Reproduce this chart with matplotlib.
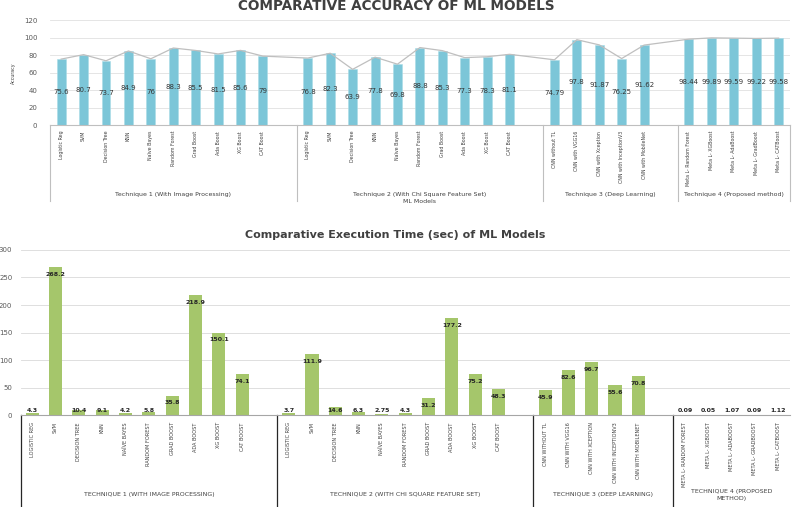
import numpy as np
import matplotlib.pyplot as plt
import matplotlib.transforms as mtrans
from matplotlib import font_manager

# ---- data ----
ml_names = ['Logistic Reg', 'SVM', 'Decision Tree', 'KNN', 'Naïve Bayes',
            'Random Forest', 'Grad Boost', 'Ada Boost', 'XG Boost', 'CAT Boost']
cnn_names = ['CNN without TL', 'CNN with VGG16', 'CNN with Xception',
             'CNN with InceptionV3', 'CNN with MobileNet']
meta_names = ['Meta L- Random Forest', 'Meta L- XGBoost', 'Meta L- AdaBoost',
              'Meta L- GradBoost', 'Meta L- CATBoost']

acc_t1 = [75.6, 80.7, 73.7, 84.9, 76, 88.3, 85.5, 81.5, 85.6, 79]
acc_t2 = [76.8, 82.3, 63.9, 77.8, 69.8, 88.8, 85.3, 77.3, 78.3, 81.1]
acc_t3 = [74.79, 97.8, 91.87, 76.25, 91.62]
acc_t4 = [98.44, 99.89, 99.59, 99.22, 99.58]

time_t1 = [4.3, 268.2, 10.4, 9.1, 4.2, 5.8, 35.8, 218.9, 150.1, 74.1]
time_t2 = [3.7, 111.9, 14.6, 6.3, 2.75, 4.3, 31.2, 177.2, 75.2, 48.3]
time_t3 = [45.9, 82.6, 96.7, 55.6, 70.8]
time_t4 = [0.09, 0.05, 1.07, 0.09, 1.12]

groups_acc = ['Technique 1 (With Image Processing)', 'Technique 2 (With Chi Square Feature Set)',
              'Technique 3 (Deep Learning)', 'Technique 4 (Proposed method)']
groups_time = ['TECHNIQUE 1 (WITH IMAGE PROCESSING)', 'TECHNIQUE 2 (WITH CHI SQUARE FEATURE SET)',
               'TECHNIQUE 3 (DEEP LEARNING)', 'TECHNIQUE 4 (PROPOSED\nMETHOD)']

names = [ml_names, ml_names, cnn_names, meta_names]
offsets = [0, 11, 22, 28]
bounds = [-0.5, 10.5, 21.5, 27.5, 32.5]

# pick a narrow face if one is around, else shrink the regular one
have = {f.name for f in font_manager.fontManager.ttflist}
if 'Liberation Sans Narrow' in have:
    narrow, nsize = 'Liberation Sans Narrow', 1.0
elif 'DejaVu Sans Condensed' in have:
    narrow, nsize = 'DejaVu Sans Condensed', 0.85
else:
    narrow, nsize = 'DejaVu Sans', 0.75
txt = '#404040'

xs = np.concatenate([np.arange(len(n)) + o for n, o in zip(names, offsets)])
labels = sum(names, [])

fig = plt.figure(figsize=(7.93, 5.07), dpi=100)

# ---------- accuracy chart ----------
ax1 = fig.add_axes([0.063, 0.753, 0.933, 0.207])
acc = np.concatenate([acc_t1, acc_t2, acc_t3, acc_t4])
ax1.bar(xs, acc, width=0.4, color='#7cc6d8', edgecolor='#a9dbe6', linewidth=0.4, zorder=2)
ax1.plot(xs, acc, color='#bfbfbf', lw=0.9, zorder=3)
for x, v in zip(xs, acc):
    ax1.text(x, v / 2, f'{v:g}', ha='center', va='center', fontsize=5, color='#333333', zorder=4)
ax1.set_ylim(0, 120)
ax1.set_yticks(range(0, 121, 20))
ax1.set_xlim(-0.5, 32.5)
ax1.set_xticks(xs)
ax1.set_xticklabels(labels, rotation=90, fontsize=4.6 * nsize, family=narrow, color=txt, va='top')
ax1.tick_params(axis='x', length=0, pad=4)
ax1.tick_params(axis='y', length=0, labelsize=5, labelcolor='#595959', pad=9)
ax1.grid(axis='y', color='#e0e0e0', lw=0.6, zorder=0)
for s in ['top', 'right', 'left']:
    ax1.spines[s].set_visible(False)
ax1.spines['bottom'].set_color('#bfbfbf')
ax1.set_ylabel('Accuracy', fontsize=4.6 * nsize, color=txt, family=narrow, labelpad=6)
tr1 = mtrans.blended_transform_factory(ax1.transData, ax1.transAxes)
for b in bounds:
    ax1.plot([b, b], [0, -0.72], transform=tr1, color='#bfbfbf', lw=0.8, clip_on=False)
for i, g in enumerate(groups_acc):
    ax1.text((bounds[i] + bounds[i + 1]) / 2, -0.66, g, transform=tr1, ha='center', va='center',
             fontsize=4.5, color=txt)
ax1.text(16, -0.725, 'ML Models', transform=tr1, ha='center', va='center', fontsize=4.5, color=txt)
fig.text(0.5, 0.988, 'COMPARATIVE ACCURACY OF ML MODELS', ha='center', va='center',
         fontsize=9.8, fontweight='bold', color=txt)

# ---------- execution time chart ----------
ax2 = fig.add_axes([0.026, 0.181, 0.970, 0.326])
tm = np.concatenate([time_t1, time_t2, time_t3, time_t4])
ax2.bar(xs, tm, width=0.56, color='#a5c66b', zorder=2)
for x, v in zip(xs, tm):
    ax2.text(x, max(v - 13.5, 9), f'{v:g}', ha='center', va='center', fontsize=4.5,
             fontweight='bold', color='#262626', zorder=4)
ax2.set_ylim(0, 300)
ax2.set_yticks(range(0, 301, 50))
ax2.set_xlim(-0.5, 32.5)
ax2.set_xticks(xs)
ax2.set_xticklabels([l.upper() for l in labels], rotation=90, fontsize=4.8 * nsize, family=narrow,
                    color=txt, va='top')
ax2.tick_params(axis='x', length=0, pad=5)
ax2.tick_params(axis='y', length=0, labelsize=5, labelcolor='#595959', pad=6)
ax2.grid(axis='y', color='#d9d9d9', lw=0.6, zorder=0)
for s in ['top', 'right', 'left']:
    ax2.spines[s].set_visible(False)
ax2.spines['bottom'].set_color('#a6a6a6')
tr2 = mtrans.blended_transform_factory(ax2.transData, ax2.transAxes)
for b in bounds[:-1]:
    ax2.plot([b, b], [0, -0.57], transform=tr2, color='#262626', lw=0.9, clip_on=False)
for i, g in enumerate(groups_time):
    ax2.text((bounds[i] + bounds[i + 1]) / 2, -0.48, g, transform=tr2, ha='center', va='center',
             fontsize=4.5, color=txt, linespacing=1.5)
fig.text(0.498, 0.536, 'Comparative Execution Time (sec) of ML Models', ha='center', va='center',
         fontsize=8, fontweight='bold', color=txt)

fig.savefig('out.png', dpi=100)
